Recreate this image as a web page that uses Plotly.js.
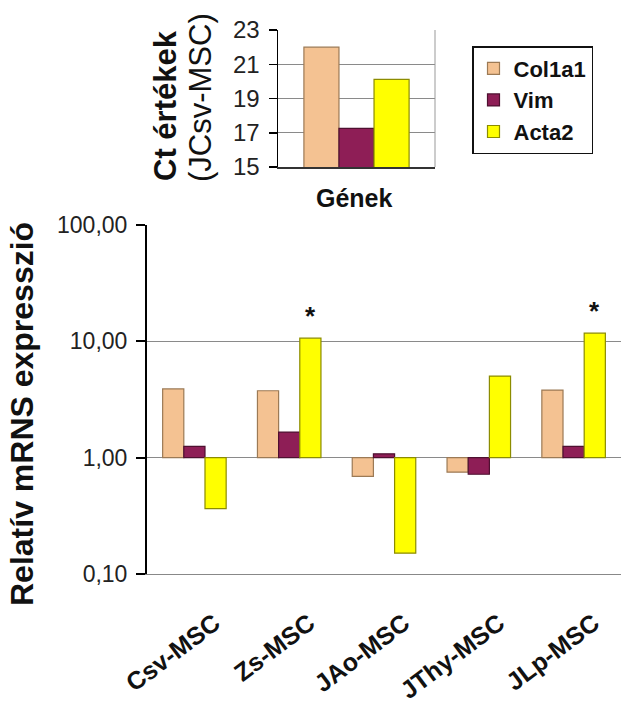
<!DOCTYPE html>
<html>
<head>
<meta charset="utf-8">
<script src="https://cdn.plot.ly/plotly-3.0.1.min.js"></script>
<style>html,body{margin:0;padding:0;background:#fff;}#chart{width:622px;height:711px;}</style>
</head>
<body>
<div id="chart"></div>
<script>
// Main chart data (relative mRNA expression, log scale)
const categories = ['Csv-MSC', 'Zs-MSC', 'JAo-MSC', 'JThy-MSC', 'JLp-MSC'];
const col1a1 = [3.9, 3.76, 0.69, 0.75, 3.81];
const vim = [1.25, 1.66, 1.08, 0.72, 1.25];
const acta2 = [0.365, 10.65, 0.151, 5.03, 11.76];
const significance = ['', '*', '', '', '*'];

// Inset data (Ct values, JCsv-MSC)
const insetCategory = ['Gének'];
const ctCol1a1 = [22.0];
const ctVim = [17.25];
const ctActa2 = [20.12];

// Axis tick labels
const mainTickVals = [0.1, 1, 10, 100];
const mainTickText = ['0,10', '1,00', '10,00', '100,00'];
const insetTickVals = [15, 17, 19, 21, 23];

const seriesNames = ['Col1a1', 'Vim', 'Acta2'];
const fills = ['#F4C292', '#8E1E56', '#FFFF00'];
const outlines = ['#9C7A55', '#4E1030', '#8C8C00'];

const FONT = 'Liberation Sans, Arial, sans-serif';
const baseline = 1;

const mainSeries = [col1a1, vim, acta2];
const insetSeries = [ctCol1a1, ctVim, ctActa2];

const traces = [];
mainSeries.forEach((vals, i) => {
  traces.push({
    type: 'bar', name: seriesNames[i], legendgroup: seriesNames[i],
    x: categories, y: vals.map(v => v - baseline), base: baseline,
    customdata: vals, hovertemplate: '%{x}: %{customdata}<extra>' + seriesNames[i] + '</extra>',
    marker: {color: fills[i], line: {color: outlines[i], width: 1.2}},
    xaxis: 'x', yaxis: 'y'
  });
});
insetSeries.forEach((vals, i) => {
  traces.push({
    type: 'bar', name: seriesNames[i], legendgroup: seriesNames[i], showlegend: false,
    x: insetCategory, y: vals,
    marker: {color: fills[i], line: {color: outlines[i], width: 1.2}},
    xaxis: 'x2', yaxis: 'y2'
  });
});

const annotations = [];
categories.forEach((c, i) => {
  if (significance[i]) {
    annotations.push({
      xref: 'x', yref: 'y', x: c, y: Math.log10(acta2[i]),
      xshift: 21, yshift: 5, xanchor: 'center', yanchor: 'bottom', showarrow: false,
      text: '<b>' + significance[i] + '</b>', font: {family: FONT, size: 26, color: '#111'}
    });
  }
});
annotations.push({
  xref: 'paper', yref: 'paper', x: 22 / 622, y: 1 - 414 / 711, textangle: -90,
  xanchor: 'center', yanchor: 'middle',
  showarrow: false, text: '<b>Relatív mRNS expresszió</b>',
  font: {family: FONT, size: 32, color: '#111'}
});
annotations.push({
  xref: 'paper', yref: 'paper', x: 165 / 622, y: 1 - 106 / 711, textangle: -90,
  xanchor: 'center', yanchor: 'middle',
  showarrow: false, text: '<b>Ct értékek</b>',
  font: {family: FONT, size: 31, color: '#111'}
});
annotations.push({
  xref: 'paper', yref: 'paper', x: 200 / 622, y: 1 - 98 / 711, textangle: -90,
  xanchor: 'center', yanchor: 'middle',
  showarrow: false, text: '(JCsv-MSC)',
  font: {family: FONT, size: 31, color: '#111'}
});
annotations.push({
  xref: 'paper', yref: 'paper', x: 354 / 622, y: 1 - 198 / 711,
  xanchor: 'center', yanchor: 'middle',
  showarrow: false, text: '<b>Gének</b>',
  font: {family: FONT, size: 25, color: '#111'}
});

const shapes = [];
// category axis line at 1,00
shapes.push({type: 'line', xref: 'x domain', x0: 0, x1: 1, yref: 'y', y0: 0, y1: 0,
  line: {color: '#000', width: 2}});
// category boundary tick marks
for (let i = 0; i <= categories.length; i++) {
  shapes.push({type: 'line', xref: 'x', x0: i - 0.5, x1: i - 0.5, yref: 'y',
    ysizemode: 'pixel', yanchor: 0, y0: 0, y1: -8, line: {color: '#000', width: 2}});
}
// inset right border
shapes.push({type: 'line', xref: 'x2 domain', x0: 1, x1: 1, yref: 'y2 domain', y0: 0, y1: 1,
  line: {color: '#999', width: 1}});

const layout = {
  width: 622, height: 711,
  margin: {l: 0, r: 0, t: 0, b: 0},
  paper_bgcolor: '#fff', plot_bgcolor: '#fff',
  barmode: 'group', bargap: 0.33, bargroupgap: 0,
  font: {family: FONT, color: '#111'},
  showlegend: true,
  legend: {x: 472 / 622, y: 1 - 46 / 711, xanchor: 'left', yanchor: 'top',
    bordercolor: '#111', borderwidth: 1.5, bgcolor: '#fff',
    font: {family: FONT, size: 22, weight: 'bold', color: '#111'},
    traceorder: 'grouped', tracegroupgap: 0, itemwidth: 30},
  xaxis: {domain: [147 / 622, 621 / 622], anchor: 'y', type: 'category',
    range: [-0.5, categories.length - 0.5],
    showgrid: false, showline: true, linecolor: '#888', linewidth: 1, ticks: '',
    tickangle: -37, ticklabelstandoff: 24, ticklabelshift: 20,
    tickfont: {family: FONT, size: 25, weight: 'bold', color: '#111'},
    fixedrange: true},
  yaxis: {domain: [1 - 574 / 711, 1 - 225 / 711], anchor: 'x', type: 'log', range: [-1, 2],
    tickvals: mainTickVals, ticktext: mainTickText,
    showgrid: true, gridcolor: '#8a8a8a', gridwidth: 1,
    showline: true, linecolor: '#000', linewidth: 2,
    ticks: 'outside', ticklen: 9, tickwidth: 2, tickcolor: '#000', ticklabelstandoff: 4,
    tickfont: {family: FONT, size: 23, color: '#222'}, zeroline: false, fixedrange: true},
  xaxis2: {domain: [278 / 622, 435 / 622], anchor: 'y2', type: 'category',
    showticklabels: false, ticks: '', showgrid: false,
    showline: true, linecolor: '#333', linewidth: 1.5, fixedrange: true},
  yaxis2: {domain: [1 - 167 / 711, 1 - 30 / 711], anchor: 'x2', range: [15, 23],
    tickvals: insetTickVals, showgrid: true, gridcolor: '#8a8a8a', gridwidth: 1,
    showline: true, linecolor: '#000', linewidth: 1.5,
    ticks: 'outside', ticklen: 8, tickwidth: 1.5, tickcolor: '#000', ticklabelstandoff: 4,
    tickfont: {family: FONT, size: 24, color: '#222'}, zeroline: false, fixedrange: true},
  annotations: annotations,
  shapes: shapes
};

Plotly.newPlot('chart', traces, layout, {displayModeBar: false, staticPlot: true});
</script>
</body>
</html>
